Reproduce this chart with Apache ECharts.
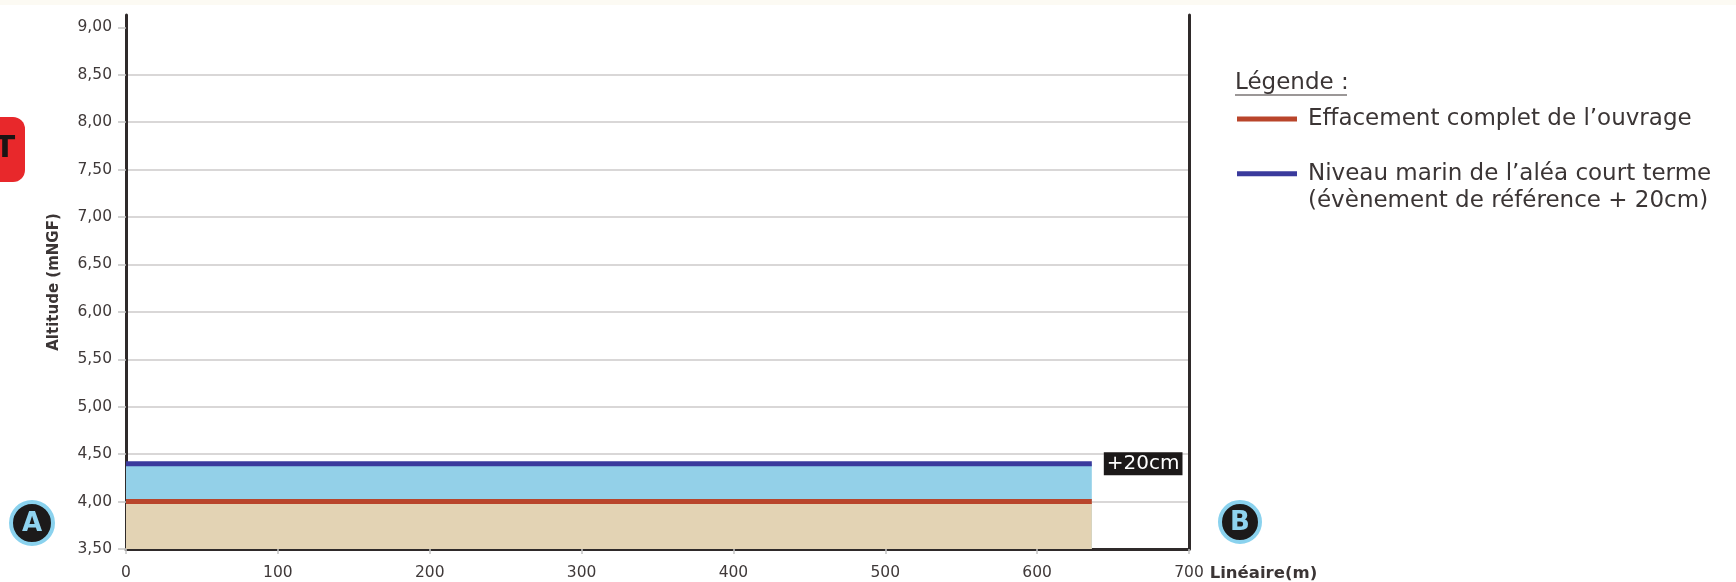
<!DOCTYPE html>
<html>
<head>
<meta charset="utf-8">
<script src="https://cdn.jsdelivr.net/npm/echarts@6/dist/echarts.min.js"></script>
<style>
html,body{margin:0;padding:0;background:#fff;}
#chart{width:1736px;height:582px;}
</style>
</head>
<body>
<div id="chart"></div>
<script>
// ---- data ----
const profileX = [0, 636];               // Linéaire (m)
const groundLevel = [4.00, 4.00];        // Effacement complet de l'ouvrage
const seaLevel = [4.40, 4.40];           // Niveau marin de l'aléa court terme
const yTicks = [3.5, 4.0, 4.5, 5.0, 5.5, 6.0, 6.5, 7.0, 7.5, 8.0, 8.5, 9.0];
const xTicks = [0, 100, 200, 300, 400, 500, 600, 700];
const seriesNames = ["Effacement complet de l’ouvrage", "Niveau marin de l’aléa court terme"];
const seaNote = "(évènement de référence + 20cm)";
const endNote = "+20cm";

const FONT = "DejaVu Sans";
const DARK = "#2f2a2a";
const TXT = "#3b3535";

const groundData = profileX.map((x, i) => [x, groundLevel[i]]);
const seaData = profileX.map((x, i) => [x, seaLevel[i]]);

const chart = echarts.init(document.getElementById('chart'), null, {renderer: 'canvas'});
chart.setOption({
  backgroundColor: '#ffffff',
  animation: false,
  textStyle: {fontFamily: FONT},
  grid: {left: 126, right: 547, top: 15, bottom: 31, containLabel: false},
  xAxis: {
    type: 'value', min: 0, max: 700, interval: 100,
    name: 'Linéaire(m)', nameLocation: 'end', nameGap: 20,
    nameTextStyle: {fontFamily: FONT, fontWeight: 'bold', fontSize: 16.5, color: TXT,
                    verticalAlign: 'top', padding: [16, 0, 0, 0]},
    axisLine: {show: true, lineStyle: {color: DARK, width: 3}},
    axisTick: {show: true, length: 5, lineStyle: {color: '#c4c4c4', width: 1.5}, customValues: xTicks},
    axisLabel: {fontFamily: FONT, fontSize: 15.5, color: '#3f3939', margin: 16, customValues: xTicks},
    splitLine: {show: false}
  },
  yAxis: [{
    type: 'value', min: 3.5, max: 9.13, interval: 0.5,
    name: 'Altitude (mNGF)', nameLocation: 'middle', nameGap: 64, nameRotate: 90,
    nameTextStyle: {fontFamily: FONT, fontWeight: 'bold', fontSize: 15, color: TXT},
    axisLine: {show: true, lineStyle: {color: DARK, width: 3}},
    axisTick: {show: true, length: 8, lineStyle: {color: '#c4c4c4', width: 1.5}, customValues: yTicks},
    axisLabel: {fontFamily: FONT, fontSize: 15.5, color: '#3f3939', margin: 14, customValues: yTicks,
                formatter: v => v.toFixed(2).replace('.', ',')},
    splitLine: {show: true, showMaxLine: false, lineStyle: {color: '#cdcaca', width: 1.5}}
  }, {
    type: 'value', min: 3.5, max: 9.13, position: 'right',
    axisLine: {show: true, lineStyle: {color: DARK, width: 3}},
    axisTick: {show: false}, axisLabel: {show: false}, splitLine: {show: false}
  }],
  legend: {
    orient: 'vertical', left: 1237, top: 102.5, padding: 0,
    itemWidth: 60, itemHeight: 5, itemGap: 21.7, icon: 'rect',
    data: seriesNames,
    textStyle: {fontFamily: FONT, fontSize: 23, color: TXT, lineHeight: 25, padding: [8, 0, 0, 6]},
    selectedMode: false
  },
  series: [{
    name: seriesNames[1], type: 'line', data: seaData, symbol: 'none',
    color: '#3a3a9c',
    lineStyle: {color: '#3a3a9c', width: 5},
    areaStyle: {color: '#93d0e8', opacity: 1, origin: 'start'},
    z: 2,
    endLabel: {show: true, formatter: endNote, distance: 12, color: '#ffffff',
               backgroundColor: '#1c1919', fontFamily: FONT, fontSize: 20, lineHeight: 21,
               padding: [1, 3, 1, 3]}
  }, {
    name: seriesNames[0], type: 'line', data: groundData, symbol: 'none',
    color: '#b9452b',
    lineStyle: {color: '#b9452b', width: 5},
    areaStyle: {color: '#e3d3b4', opacity: 1, origin: 'start'},
    z: 3
  }],
  graphic: [
    {type: 'rect', shape: {x: 0, y: 0, width: 1736, height: 5}, style: {fill: '#fcfaf3'}, silent: true},
    // legend title
    {type: 'text', x: 1235, y: 83, style: {text: 'Légende :', fontFamily: FONT, fontSize: 23, fill: TXT, verticalAlign: 'middle'}},
    {type: 'line', shape: {x1: 1235, y1: 95, x2: 1347, y2: 95}, style: {stroke: '#7a7575', lineWidth: 1.5}},
    // second legend line
    {type: 'text', x: 1308, y: 201, style: {text: seaNote, fontFamily: FONT, fontSize: 23, fill: TXT, verticalAlign: 'middle'}},
    // red badge (cut off at left edge)
    {type: 'rect', shape: {x: -25, y: 117, width: 50, height: 65, r: 12}, style: {fill: '#e8282b'}},
    {type: 'text', x: 5, y: 149, style: {text: 'T', fontFamily: FONT, fontWeight: 'bold', fontSize: 30, fill: '#1a1414', align: 'center', verticalAlign: 'middle'}},
    // A marker
    {type: 'circle', shape: {cx: 32, cy: 523, r: 21}, style: {fill: '#1c1a1a', stroke: '#8ad2ee', lineWidth: 4}},
    {type: 'text', x: 32, y: 524, style: {text: 'A', fontFamily: FONT, fontWeight: 'bold', fontSize: 26, fill: '#8fd3ef', align: 'center', verticalAlign: 'middle'}},
    // B marker
    {type: 'circle', shape: {cx: 1240, cy: 522, r: 20}, style: {fill: '#1c1a1a', stroke: '#8ad2ee', lineWidth: 4}},
    {type: 'text', x: 1240, y: 523, style: {text: 'B', fontFamily: FONT, fontWeight: 'bold', fontSize: 26, fill: '#8fd3ef', align: 'center', verticalAlign: 'middle'}}
  ]
});
</script>
</body>
</html>
